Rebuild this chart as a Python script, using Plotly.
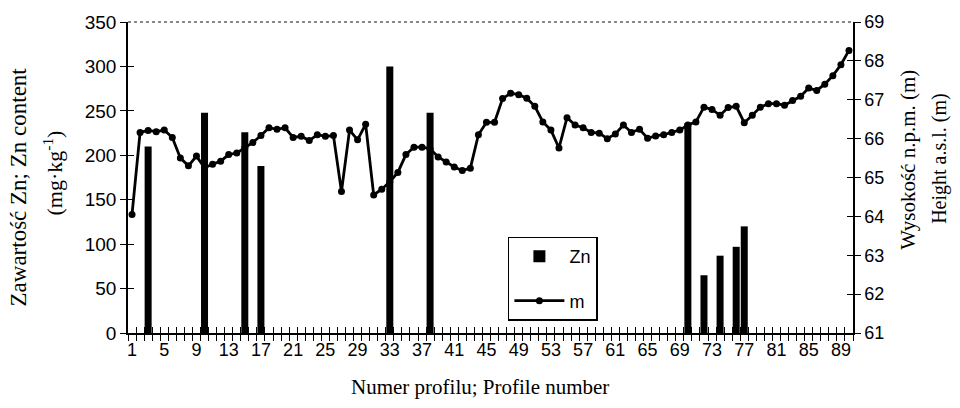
import plotly.graph_objects as go

# ---- data ----
profiles = list(range(1, 91))
height_m = [64.05, 66.16, 66.21, 66.18, 66.22, 66.03, 65.5, 65.3, 65.55, 65.25,
            65.34, 65.42, 65.59, 65.63, 65.76, 65.9, 66.08, 66.28, 66.24, 66.28,
            66.03, 66.06, 65.95, 66.1, 66.06, 66.08, 64.64, 66.22, 65.97, 66.37,
            64.55, 64.7, 64.89, 65.13, 65.59, 65.78, 65.78, 65.74, 65.53, 65.4,
            65.27, 65.18, 65.24, 66.1, 66.42, 66.42, 67.03, 67.17, 67.13, 67.04,
            66.83, 66.43, 66.22, 65.76, 66.54, 66.35, 66.28, 66.16, 66.14, 66.0,
            66.12, 66.35, 66.16, 66.24, 66.01, 66.07, 66.1, 66.16, 66.22, 66.35,
            66.43, 66.81, 66.75, 66.6, 66.8, 66.83, 66.41, 66.6, 66.81, 66.9,
            66.9, 66.86, 66.98, 67.09, 67.3, 67.24, 67.4, 67.62, 67.9, 68.27]
zn_profiles = [3, 10, 15, 17, 33, 38, 70, 72, 74, 76, 77]
zn_values = [210, 248, 226, 188, 300, 248, 236, 65, 87, 97, 120]

x_labels = list(range(1, 90, 4))
boundaries = [i + 0.5 for i in range(0, 91)]
left_ticks = list(range(0, 351, 50))
right_ticks = list(range(61, 70))

SANS = "Liberation Sans, Arial, sans-serif"
SERIF = "Liberation Serif, Times New Roman, serif"

fig = go.Figure()
fig.add_trace(go.Bar(x=zn_profiles, y=zn_values, name="Zn", marker_color="black",
                     marker_line_width=0, xaxis="x", yaxis="y", legendgroup="a"))
fig.add_trace(go.Scatter(x=profiles, y=height_m, name="m", mode="lines+markers",
                         line=dict(color="black", width=2.8),
                         marker=dict(symbol="circle", size=7, color="black"),
                         xaxis="x", yaxis="y2", legendgroup="b"))
# helper (empty) traces so the tick-only overlay axes are drawn
fig.add_trace(go.Scatter(x=[], y=[], xaxis="x2", yaxis="y", showlegend=False, hoverinfo="skip"))
fig.add_trace(go.Scatter(x=[], y=[], xaxis="x", yaxis="y3", showlegend=False, hoverinfo="skip"))
fig.add_trace(go.Scatter(x=[], y=[], xaxis="x", yaxis="y4", showlegend=False, hoverinfo="skip"))

axis_common = dict(showgrid=False, zeroline=False, tickcolor="black")

fig.update_layout(
    width=960, height=408,
    margin=dict(l=128, r=107, t=17, b=75),
    paper_bgcolor="white", plot_bgcolor="white",
    bargap=0.13,
    showlegend=True,
    legend=dict(x=0.524, y=0.31, xanchor="left", yanchor="top",
                bordercolor="black", borderwidth=1.5, bgcolor="white",
                font=dict(family=SANS, size=18, color="black"),
                itemwidth=50, tracegroupgap=18, traceorder="grouped"),
    xaxis=dict(range=[0.5, 90.5], tickmode="array", tickvals=x_labels,
               ticktext=[str(v) for v in x_labels], ticks="",
               showline=True, linecolor="black", linewidth=1.5,
               tickfont=dict(family=SANS, size=18, color="black"),
               minor=dict(tickmode="array", tickvals=boundaries, ticks="outside",
                          ticklen=6, tickcolor="black", tickwidth=1),
               anchor="y", **axis_common),
    xaxis2=dict(range=[0.5, 90.5], overlaying="x", anchor="y", side="bottom",
                tickmode="array", tickvals=boundaries, ticks="inside", ticklen=6,
                showticklabels=False, showline=False, **axis_common),
    yaxis=dict(range=[0, 350], tickmode="array", tickvals=left_ticks, ticks="outside",
               ticklen=6, showline=True, linecolor="black", linewidth=1.5,
               tickfont=dict(family=SANS, size=19, color="black"), anchor="x",
               **axis_common),
    yaxis3=dict(range=[0, 350], overlaying="y", side="left", anchor="x",
                tickmode="array", tickvals=left_ticks, ticks="inside", ticklen=6,
                showticklabels=False, showline=False, **axis_common),
    yaxis2=dict(range=[61, 69], overlaying="y", side="right", anchor="x",
                tickmode="array", tickvals=right_ticks, ticks="outside", ticklen=6,
                showline=True, linecolor="black", linewidth=1.5,
                tickfont=dict(family=SANS, size=18, color="black"), **axis_common),
    yaxis4=dict(range=[61, 69], overlaying="y", side="right", anchor="x",
                tickmode="array", tickvals=right_ticks, ticks="inside", ticklen=6,
                showticklabels=False, showline=False, **axis_common),
)

# dotted top border
fig.add_shape(type="line", xref="paper", yref="paper", x0=0, x1=1, y0=1, y1=1,
              line=dict(color="#888888", width=2, dash="dot"))

ann_font = dict(family=SERIF, color="black")
fig.add_annotation(text="Zawartość Zn; Zn content", xref="paper", yref="paper",
                   x=-0.1517, y=0.468, textangle=-90, showarrow=False,
                   xanchor="center", yanchor="middle", font=dict(size=23, **ann_font))
fig.add_annotation(text="(mg·kg<sup>-1</sup>)", xref="paper", yref="paper",
                   x=-0.1034, y=0.513, textangle=-90, showarrow=False,
                   xanchor="center", yanchor="middle", font=dict(size=22, **ann_font))
fig.add_annotation(text="Wysokość n.p.m. (m)", xref="paper", yref="paper",
                   x=1.0759, y=0.557, textangle=-90, showarrow=False,
                   xanchor="center", yanchor="middle", font=dict(size=21, **ann_font))
fig.add_annotation(text="Height a.s.l. (m)", xref="paper", yref="paper",
                   x=1.12, y=0.56, textangle=-90, showarrow=False,
                   xanchor="center", yanchor="middle", font=dict(size=20, **ann_font))
fig.add_annotation(text="Numer profilu; Profile number", xref="paper", yref="paper",
                   x=0.4855, y=-0.174, showarrow=False,
                   xanchor="center", yanchor="middle", font=dict(size=21, **ann_font))

fig.write_html("out.html")
